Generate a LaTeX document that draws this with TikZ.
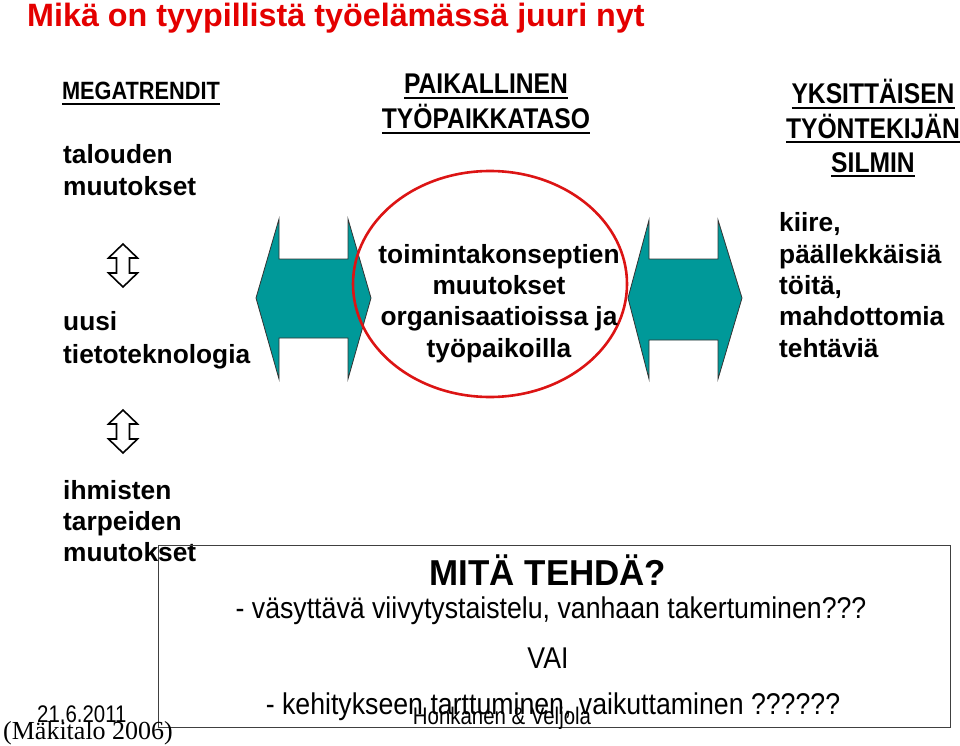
\documentclass[tikz,border=0pt]{standalone}
\usepackage{fontspec}
\usetikzlibrary{shapes.geometric}
\setmainfont{Liberation Sans}
\newfontfamily\narrowH[FakeStretch=0.865]{Liberation Sans}
\newfontfamily\narrowG[FakeStretch=0.87]{Liberation Sans}
\newfontfamily\narrowM[FakeStretch=0.97]{Liberation Sans}
\newfontfamily\narrowT[FakeStretch=0.89]{Liberation Sans}
\newfontfamily\narrowF[FakeStretch=0.85]{Liberation Sans}
\newfontfamily\timesf{Liberation Serif}
\newcommand\myul[1]{\leavevmode\setbox0\hbox{#1}\rlap{\raisebox{-5.4pt}{\rule{\wd0}{2.3pt}}}\box0}
\definecolor{titlered}{RGB}{228,0,0}
\definecolor{tealfill}{RGB}{0,153,153}
\definecolor{ringred}{RGB}{220,20,20}
\begin{document}
\begin{tikzpicture}[x=1pt,y=-1pt,
  body/.style={inner sep=0pt,font=\fontsize{26.3}{31.3}\selectfont\bfseries,align=left},
  head/.style={inner sep=0pt,font=\fontsize{28.5}{35}\selectfont\narrowH\bfseries,align=center},
  bigarrow/.style={fill=tealfill,draw=black!80,line width=0.8pt,line join=miter},
  smallarrow/.style={draw=black,line width=1.6pt,fill=white,line join=miter},
  boxtext/.style={inner sep=0pt,font=\fontsize{30}{32}\selectfont\narrowT}]
\useasboundingbox (0,0) rectangle (960,746);
% title
\node[anchor=base west,inner sep=0pt,text=titlered,font=\fontsize{32.3}{34}\selectfont\bfseries] (title) at (27,27) {Mikä on tyypillistä työelämässä juuri nyt};
% headers
\node[inner sep=0pt,font=\fontsize{25}{30}\selectfont\narrowG\bfseries,anchor=base] (mega) at (141,100) {\myul{MEGATRENDIT}};
\node[head,anchor=base] (paik) at (486,129) {\myul{PAIKALLINEN}\\\myul{TYÖPAIKKATASO}};
\node[head,font=\fontsize{28.5}{34}\selectfont\narrowH\bfseries,anchor=base] (yks) at (873,172) {\myul{YKSITTÄISEN}\\\myul{TYÖNTEKIJÄN}\\\myul{SILMIN}};
% left column
\node[body,anchor=base west] (talo) at (63,195) {talouden\\muutokset};
\path[smallarrow] (123,244) -- (137.5,258) -- (129.5,258) -- (129.5,273) -- (137.5,273) -- (123,287) -- (108.5,273) -- (116.5,273) -- (116.5,258) -- (108.5,258) -- cycle;
\node[body,font=\fontsize{26.3}{32.5}\selectfont\bfseries,anchor=base west] (uusi) at (63,363) {uusi\\tietoteknologia};
\path[smallarrow] (123,410) -- (137.5,424) -- (129.5,424) -- (129.5,439) -- (137.5,439) -- (123,453) -- (108.5,439) -- (116.5,439) -- (116.5,424) -- (108.5,424) -- cycle;
% big arrows
\path[bigarrow] (256,298) -- (279,219) -- (279,259) -- (348,259) -- (348,219) -- (371,298) -- (348,379) -- (348,338) -- (279,338) -- (279,379) -- cycle;
\path[bigarrow] (628,298) -- (649,220) -- (649,259) -- (718,259) -- (718,220) -- (742,298) -- (718,379) -- (718,340) -- (649,340) -- (649,379) -- cycle;
% middle ellipse
\node[draw=ringred,line width=2.6pt,ellipse,minimum width=274pt,minimum height=226pt,inner sep=0pt] (ring) at (490,284) {};
\node[body,align=center,anchor=base] (mid) at (499,357) {toimintakonseptien\\muutokset\\organisaatioissa ja\\työpaikoilla};
% right column
\node[body,anchor=base west] (kiire) at (779,357) {kiire,\\päällekkäisiä\\töitä,\\mahdottomia\\tehtäviä};
% lower left
\node[body,font=\fontsize{26.3}{31}\selectfont\bfseries,anchor=base west] (ihm) at (63,561) {ihmisten\\tarpeiden\\muutokset};
% box
\node[draw=black!75,line width=1pt,minimum width=792pt,minimum height=182pt,inner sep=0pt,anchor=north west] (box) at (158,545) {};
\node[inner sep=0pt,anchor=base,font=\fontsize{36}{38}\selectfont\narrowM\bfseries] (mita) at (548,585) {MITÄ TEHDÄ?};
\node[boxtext,anchor=base] (vas) at (551,618) {- väsyttävä viivytystaistelu, vanhaan takertuminen???};
\node[boxtext,anchor=base] (vai) at (548,668) {VAI};
\node[boxtext,anchor=base] (keh) at (553,714) {- kehitykseen tarttuminen, vaikuttaminen ??????};
% footer
\node[inner sep=0pt,anchor=base west,font=\fontsize{24}{26}\selectfont\narrowF] (date) at (37,722) {21.6.2011};
\node[inner sep=0pt,anchor=base,font=\fontsize{24}{26}\selectfont\narrowF] (auth) at (502,724) {Honkanen \& Veljola};
\node[inner sep=0pt,anchor=base west,font=\fontsize{26}{28}\selectfont\timesf] (mak) at (3,739) {(Mäkitalo 2006)};
\end{tikzpicture}
\end{document}
